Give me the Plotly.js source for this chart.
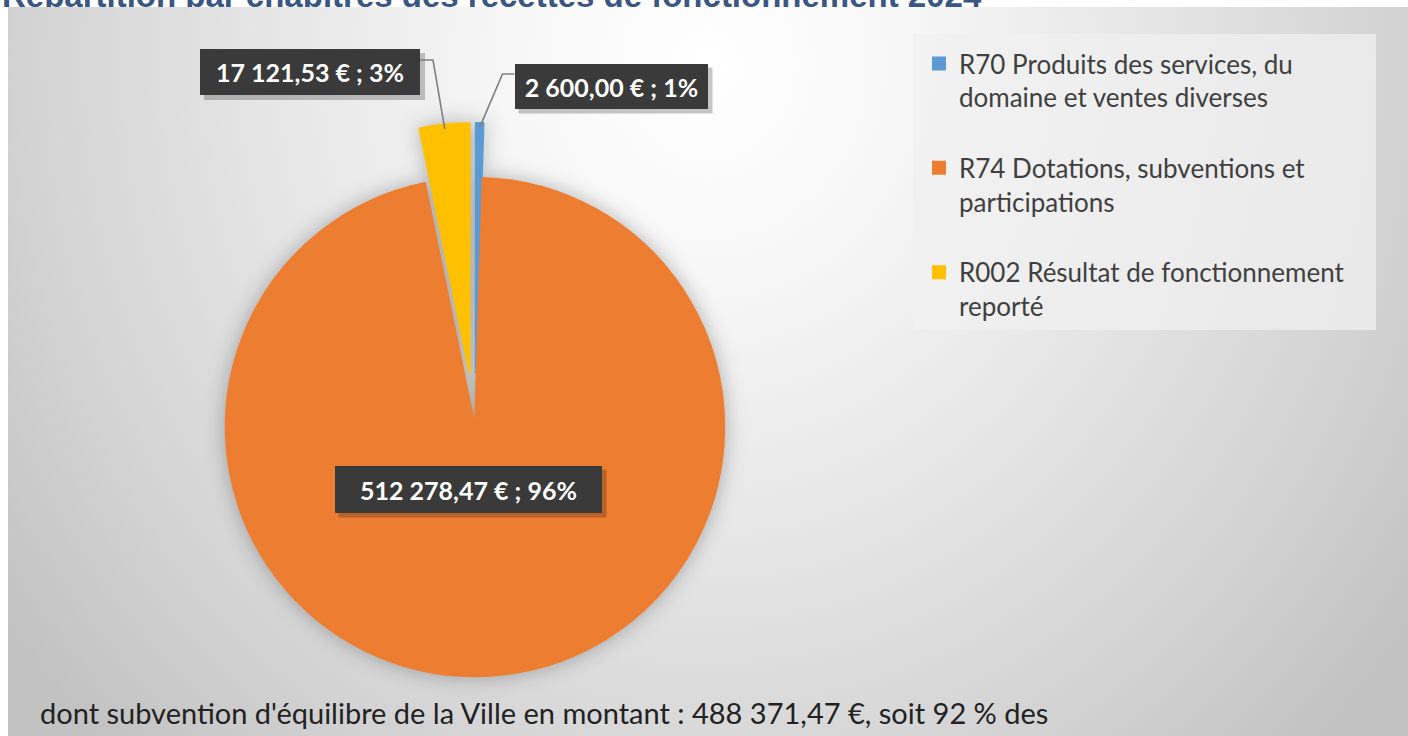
<!DOCTYPE html>
<html>
<head>
<meta charset="utf-8">
<script src="https://cdn.plot.ly/plotly-3.0.1.min.js"></script>
<style>
html,body{margin:0;padding:0;background:#ffffff;overflow:hidden;}
#wrap{position:relative;width:1408px;height:736px;}
#bg{position:absolute;left:8px;top:7px;width:1400px;height:729px;
 background:radial-gradient(ellipse 62% 130% at 50% 8%, #ffffff 0%, #f7f7f7 22%, #e6e6e6 50%, #d2d2d2 80%, #c2c2c2 100%);}
#chart{position:absolute;left:0;top:0;width:1408px;height:736px;}
#chart .pielayer{filter:drop-shadow(0px 0px 10px rgba(0,0,0,0.28));}
</style>
</head>
<body>
<div id="wrap"><div id="bg"></div><div id="chart"></div></div>
<script>
// ---- data ----
var categories = [
  "R70 Produits des services, du<br>domaine et ventes diverses<br> ",
  "R74 Dotations, subventions et<br>participations<br> ",
  "R002 Résultat de fonctionnement<br>reporté"
];
var amounts = [2600.00, 512278.47, 17121.53];
var percentLabels = ["1%", "96%", "3%"];
var sliceColors = ["#5B9BD5", "#ED7D31", "#FFC000"];
var titleText = "Répartition par chapitres des recettes de fonctionnement 2024";
var noteText = "dont subvention d'équilibre de la Ville en montant : 488 371,47 €, soit 92 % des";

var W = 1408, H = 736;
var pulls = [0.22, 0, 0.22];

function fmtEuro(v){
  var p = v.toFixed(2).split('.');
  var i = p[0].replace(/\B(?=(\d{3})+(?!\d))/g, ' ');
  return i + ',' + p[1] + ' € ; ';
}

// pie placement (domain in paper units)
var cxPx = 475, cyPx = 427, half = 304;
var dom = {x:[(cxPx-half)/W,(cxPx+half)/W], y:[1-(cyPx+half)/H, 1-(cyPx-half)/H]};
var maxPull = Math.max.apply(null, pulls);
var R = half/(1+maxPull);

// geometry for leader-line anchors, derived from the values
var total = amounts.reduce(function(a,b){return a+b;},0);
var cum = 0, mids = [];
amounts.forEach(function(v){ var a0 = cum/total*360; cum += v; var a1 = cum/total*360; mids.push((a0+a1)/2); });
function anchor(i){
  var a = mids[i]*Math.PI/180;
  var pc = pulls[i]*R;
  var x = cxPx + (pc+R)*Math.sin(a)*0.985;
  var y = cyPx - (pc+R)*Math.cos(a)*0.985;
  return [x,y];
}

// label boxes (pixel layout)
var boxes = [
  {cx:611, cy:86, w:193, h:45},
  {cx:468, cy:489, w:267, h:47},
  {cx:310, cy:72, w:220, h:46}
];

var annotations = [], shapes = [];
function px(x){return x/W;} function py(y){return 1-y/H;}

// legend background panel
shapes.push({type:'rect', xref:'paper', yref:'paper', x0:px(913), x1:px(1376), y0:py(330), y1:py(34),
  fillcolor:'rgba(240,240,240,0.75)', line:{width:0}, layer:'below'});

boxes.forEach(function(b,i){
  shapes.push({type:'rect', xref:'paper', yref:'paper', x0:px(b.cx-b.w/2+4), x1:px(b.cx+b.w/2+5), y0:py(b.cy+b.h/2+5), y1:py(b.cy-b.h/2+4),
    fillcolor:'rgba(0,0,0,0.22)', line:{width:0}, layer:'above'});
  annotations.push({xref:'paper', yref:'paper', x:px(b.cx), y:py(b.cy), xanchor:'center', yanchor:'middle',
    text: fmtEuro(amounts[i]) + percentLabels[i], showarrow:false, width:b.w, height:b.h, borderpad:0, borderwidth:0,
    bgcolor:'#3a3a3a', font:{family:'Lato, "Open Sans", sans-serif', size:25, color:'#ffffff', weight:'bold'}});
});

// leader lines (elbow) for the two small slices
var a0 = anchor(0), a2 = anchor(2);
var b0 = boxes[0], b2 = boxes[2];
shapes.push({type:'path', xref:'paper', yref:'paper', layer:'above',
  path:'M'+px(b0.cx-b0.w/2)+','+py(b0.cy-12)+' L'+px(b0.cx-b0.w/2-12)+','+py(b0.cy-12)+' L'+px(a0[0])+','+py(a0[1]),
  line:{color:'#7f7f7f', width:1.6}});
shapes.push({type:'path', xref:'paper', yref:'paper', layer:'above',
  path:'M'+px(b2.cx+b2.w/2)+','+py(b2.cy-12)+' L'+px(b2.cx+b2.w/2+13)+','+py(b2.cy-12)+' L'+px(a2[0])+','+py(a2[1]),
  line:{color:'#7f7f7f', width:1.6}});

// title at the very top (partly hidden behind the chart frame, as in the source)
annotations.push({xref:'paper', yref:'paper', x:px(0), y:1+4.5/H, xanchor:'left', yanchor:'middle', showarrow:false,
  text:'<b>'+titleText+'</b>', font:{family:'"Liberation Sans", Arial, sans-serif', size:33, color:'#3a5683'}});

// bottom note
annotations.push({xref:'paper', yref:'paper', x:px(38), y:py(712), xanchor:'left', yanchor:'middle', showarrow:false,
  text:noteText, font:{family:'Lato, "Open Sans", sans-serif', size:29, color:'#222222'}});

var trace = {
  type:'pie', values:amounts, labels:categories, sort:false, direction:'clockwise', rotation:0,
  pull:pulls, marker:{colors:sliceColors, line:{width:2, color:sliceColors}}, textinfo:'none', hoverinfo:'skip',
  domain:dom
};

var layout = {
  width:W, height:H, margin:{l:0,r:0,t:0,b:0},
  paper_bgcolor:'rgba(0,0,0,0)', plot_bgcolor:'rgba(0,0,0,0)',
  showlegend:true,
  legend:{x:px(919), y:py(40), xanchor:'left', yanchor:'top', bgcolor:'rgba(0,0,0,0)', valign:'top',
    font:{family:'Lato, "Open Sans", sans-serif', size:26, color:'#404040'}, traceorder:'normal'},
  shapes:shapes, annotations:annotations
};

Plotly.newPlot('chart', [trace], layout, {staticPlot:true, displayModeBar:false}).then(function(){
  // hide the part of the title that sits behind the chart frame (y >= 7px)
  var svgs = document.querySelectorAll('#chart svg.main-svg');
  var defsSvg = svgs[0];
  var NS = 'http://www.w3.org/2000/svg';
  var defs = defsSvg.querySelector('defs') || defsSvg.insertBefore(document.createElementNS(NS,'defs'), defsSvg.firstChild);
  var cp = document.createElementNS(NS,'clipPath'); cp.setAttribute('id','titleclip'); cp.setAttribute('clipPathUnits','userSpaceOnUse');
  var r = document.createElementNS(NS,'rect'); r.setAttribute('x',0); r.setAttribute('y',-50); r.setAttribute('width',W); r.setAttribute('height',57);
  cp.appendChild(r); defs.appendChild(cp);
  var t = document.querySelector('#chart g.annotation[data-index="'+(boxes.length)+'"]');
  if (t) t.setAttribute('clip-path','url(#titleclip)');
});
</script>
</body>
</html>
